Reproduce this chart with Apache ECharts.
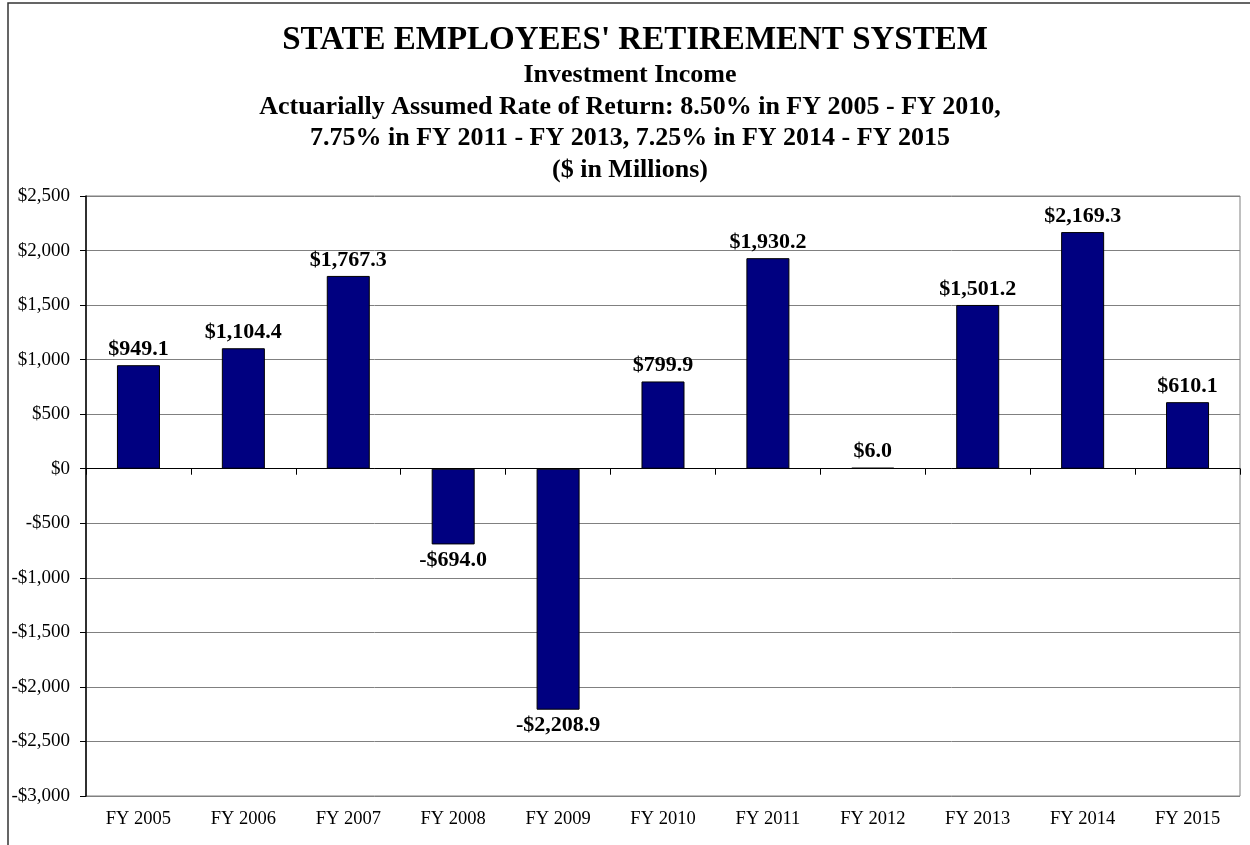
<!DOCTYPE html>
<html>
<head>
<meta charset="utf-8">
<style>
  html, body { margin: 0; padding: 0; background: #fff; }
  #chart { width: 1250px; height: 845px; }
</style>
<script src="https://cdn.jsdelivr.net/npm/echarts@6/dist/echarts.min.js"></script>
</head>
<body>
<div id="chart"></div>
<script>
// Fiscal years and investment income ($ in millions)
const categories = ['FY 2005', 'FY 2006', 'FY 2007', 'FY 2008', 'FY 2009', 'FY 2010',
                    'FY 2011', 'FY 2012', 'FY 2013', 'FY 2014', 'FY 2015'];
const incomeValues = [949.1, 1104.4, 1767.3, -694.0, -2208.9, 799.9, 1930.2, 6.0, 1501.2, 2169.3, 610.1];

const titleText = "STATE EMPLOYEES' RETIREMENT SYSTEM";
const subtitleLines = [
  'Investment Income',
  'Actuarially Assumed Rate of Return: 8.50% in FY 2005 - FY 2010,',
  '7.75% in FY 2011 - FY 2013, 7.25% in FY 2014 - FY 2015',
  '($ in Millions)'
];

const FONT = '"Liberation Serif", "Times New Roman", serif';

function money(v, decimals) {
  const s = Math.abs(v).toLocaleString('en-US', {
    minimumFractionDigits: decimals, maximumFractionDigits: decimals
  });
  return (v < 0 ? '-$' : '$') + s;
}

const chart = echarts.init(document.getElementById('chart'));

// negative bars carry their value label below the bar end
const barData = incomeValues.map(v => ({
  value: v,
  label: { position: v < 0 ? 'bottom' : 'top' }
}));

chart.setOption({
  backgroundColor: '#ffffff',
  animation: false,
  title: [
    {
      text: titleText,
      left: 630, top: 19, textAlign: 'center',
      textStyle: { fontFamily: FONT, fontSize: 33, fontWeight: 'bold', color: '#000' }
    },
    {
      text: subtitleLines.join('\n'),
      left: 625, top: 55, textAlign: 'center',
      textStyle: { fontFamily: FONT, fontSize: 26, fontWeight: 'bold', color: '#000', lineHeight: 31.5 }
    }
  ],
  graphic: [
    {
      type: 'rect',
      shape: { x: 8, y: 3, width: 1400, height: 1000 },
      style: { fill: 'none', stroke: '#333', lineWidth: 1.5 },
      silent: true
    }
  ],
  grid: {
    left: 86, right: 10, top: 196, bottom: 49,
    show: true, borderColor: '#808080', borderWidth: 1, backgroundColor: 'transparent'
  },
  xAxis: [
    {
      // category labels along the bottom edge
      type: 'category',
      data: categories,
      position: 'bottom',
      axisLine: { show: false, onZero: false },
      axisTick: { show: false },
      axisLabel: { fontFamily: FONT, fontSize: 18.5, color: '#000', margin: 14 }
    },
    {
      // baseline at $0 with ticks between categories
      type: 'category',
      data: categories,
      position: 'bottom',
      axisLine: { show: true, onZero: true, onZeroAxisIndex: 0, lineStyle: { color: '#000', width: 1 } },
      axisTick: { show: true, length: 6, lineStyle: { color: '#000' } },
      axisLabel: { show: false }
    }
  ],
  yAxis: {
    type: 'value',
    min: -3000, max: 2500, interval: 500,
    axisLine: { show: true, lineStyle: { color: '#000', width: 1.5 } },
    axisTick: { show: true, length: 6, lineStyle: { color: '#000' } },
    splitLine: { show: true, lineStyle: { color: '#808080', width: 1 } },
    axisLabel: {
      fontFamily: FONT, fontSize: 19, color: '#000', margin: 16,
      formatter: v => money(v, 0)
    }
  },
  series: [
    {
      type: 'bar',
      xAxisIndex: 0,
      data: barData,
      barWidth: '41%',
      barMinHeight: 1,
      itemStyle: { color: '#000080', borderColor: '#000', borderWidth: 1 },
      label: {
        show: true,
        distance: 5,
        fontFamily: FONT, fontSize: 22, fontWeight: 'bold', color: '#000',
        formatter: p => money(p.value, 1)
      }
    }
  ]
});
</script>
</body>
</html>
